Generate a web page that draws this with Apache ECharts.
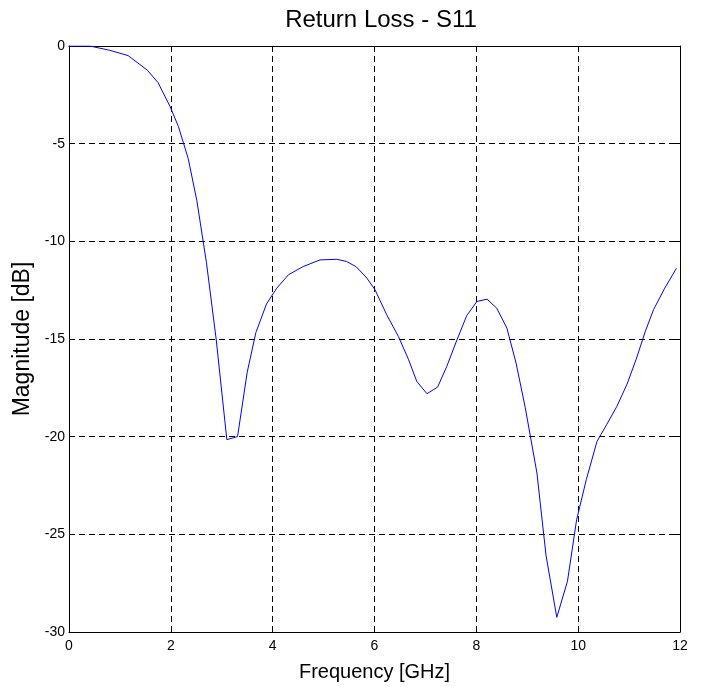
<!DOCTYPE html>
<html>
<head>
<meta charset="utf-8">
<script src="https://cdn.jsdelivr.net/npm/echarts@6/dist/echarts.min.js"></script>
<style>html,body{margin:0;padding:0;background:#fff}#c{width:702px;height:687px}</style>
</head>
<body>
<div id="c"></div>
<script>
const freqGHz = [0, 0.41, 0.8, 1.16, 1.54, 1.75, 1.98, 2.15, 2.34, 2.51, 2.70, 2.89, 3.10, 3.31, 3.50, 3.67, 3.88, 4.08, 4.31, 4.6, 4.93, 5.26, 5.45, 5.64, 5.85, 6.01, 6.24, 6.47, 6.67, 6.83, 7.03, 7.24, 7.42, 7.62, 7.81, 8.01, 8.21, 8.40, 8.60, 8.78, 8.96, 9.19, 9.37, 9.58, 9.79, 9.97, 10.16, 10.37, 10.56, 10.76, 10.96, 11.14, 11.32, 11.48, 11.7, 11.93];
const s11dB = [0, 0, -0.22, -0.49, -1.24, -1.88, -3.07, -4.13, -5.75, -7.9, -11.1, -15.0, -20.15, -20.0, -16.7, -14.67, -13.2, -12.4, -11.71, -11.29, -10.95, -10.92, -11.03, -11.3, -11.88, -12.48, -13.76, -14.87, -16.06, -17.17, -17.8, -17.46, -16.4, -15.04, -13.81, -13.08, -12.96, -13.42, -14.44, -16.23, -18.5, -21.86, -26.1, -29.25, -27.4, -24.25, -22.2, -20.24, -19.38, -18.45, -17.31, -16.03, -14.6, -13.5, -12.4, -11.38];
const xTicks = [0, 2, 4, 6, 8, 10, 12];
const yTicks = [0, -5, -10, -15, -20, -25, -30];

const chart = echarts.init(document.getElementById('c'));
const font = 'Liberation Sans, Arial, sans-serif';
const dash = {color: '#000', width: 1, type: [6, 4]};
const axisCommon = {
  axisLine: {show: true, onZero: false, lineStyle: {color: '#000', width: 1}},
  axisTick: {show: true, inside: true, length: 5, lineStyle: {color: '#000'}},
};
chart.setOption({
  animation: false,
  backgroundColor: '#fff',
  title: {text: 'Return Loss - S11', left: 376, top: 3, textAlign: 'center',
    textStyle: {fontFamily: font, fontSize: 24, fontWeight: 'normal', color: '#000'}},
  grid: {left: 69, right: 22, top: 46, bottom: 55},
  xAxis: [
    Object.assign({type: 'value', min: 0, max: 12, interval: 2, position: 'bottom',
      name: 'Frequency [GHz]', nameLocation: 'middle', nameGap: 30,
      nameTextStyle: {fontFamily: font, fontSize: 20, color: '#000'},
      axisLabel: {fontFamily: font, fontSize: 14, color: '#000', margin: 7,
        formatter: v => xTicks.includes(v) ? String(v) : ''},
      splitLine: {show: true, lineStyle: dash}}, axisCommon),
    Object.assign({type: 'value', min: 0, max: 12, interval: 2, position: 'top',
      axisLabel: {show: false}, splitLine: {show: false}}, axisCommon)
  ],
  yAxis: [
    Object.assign({type: 'value', min: -30, max: 0, interval: 5, position: 'left',
      name: 'Magnitude [dB]', nameLocation: 'middle', nameGap: 26, nameRotate: 90,
      nameTextStyle: {fontFamily: font, fontSize: 23, color: '#000'},
      axisLabel: {fontFamily: font, fontSize: 14, color: '#000', margin: 4,
        formatter: v => yTicks.includes(v) ? String(v) : ''},
      splitLine: {show: true, lineStyle: dash}}, axisCommon),
    Object.assign({type: 'value', min: -30, max: 0, interval: 5, position: 'right',
      axisLabel: {show: false}, splitLine: {show: false}}, axisCommon)
  ],
  series: [{
    type: 'line', xAxisIndex: 0, yAxisIndex: 0,
    data: freqGHz.map((f, i) => [f, s11dB[i]]),
    showSymbol: false, symbol: 'none',
    lineStyle: {color: '#0000ff', width: 1},
    z: 5
  }]
});
</script>
</body>
</html>
